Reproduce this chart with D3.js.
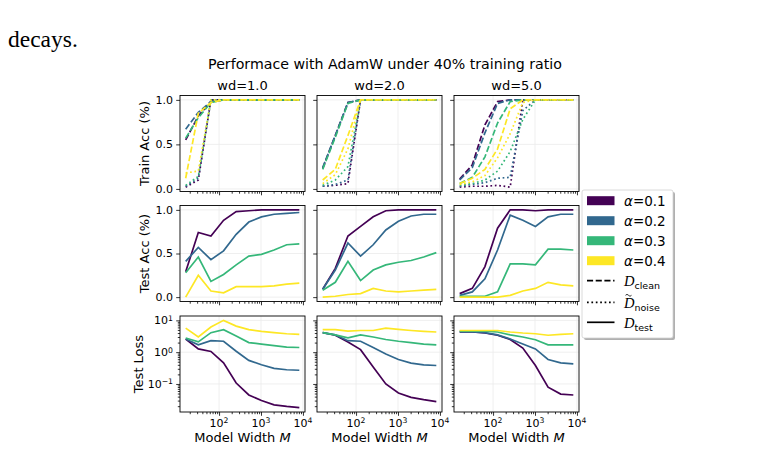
<!DOCTYPE html>
<html>
<head>
<meta charset="utf-8">
<script src="https://cdn.jsdelivr.net/npm/d3@7"></script>
<style>
  body { margin: 0; background: #fff; }
  svg text { font-family: "DejaVu Sans", sans-serif; fill: #000; }
</style>
</head>
<body>
<svg id="chart" width="784" height="449"></svg>
<script>
var widthsM = [16, 32, 64, 128, 256, 512, 1024, 2048, 4096, 8192];
var wdTitles = ["wd=1.0", "wd=2.0", "wd=5.0"];
var alphas = ["0.1", "0.2", "0.3", "0.4"];
var colors = ["#440154", "#31688e", "#35b779", "#fde725"];

// train acc on the clean part (dashed), one row per alpha
var cleanWd1 = [
  [0.55, 0.82, 0.98, 1, 1, 1, 1, 1, 1, 1],
  [0.67, 0.86, 0.98, 1, 1, 1, 1, 1, 1, 1],
  [0.57, 0.80, 0.97, 1, 1, 1, 1, 1, 1, 1],
  [0.12, 0.85, 0.97, 1, 1, 1, 1, 1, 1, 1]
];
var cleanWd2 = [
  [0.23, 0.60, 0.97, 1, 1, 1, 1, 1, 1, 1],
  [0.24, 0.60, 0.97, 1, 1, 1, 1, 1, 1, 1],
  [0.22, 0.58, 0.96, 1, 1, 1, 1, 1, 1, 1],
  [0.10, 0.22, 0.60, 1, 1, 1, 1, 1, 1, 1]
];
var cleanWd5 = [
  [0.11, 0.27, 0.72, 0.98, 1, 1, 1, 1, 1, 1],
  [0.10, 0.24, 0.63, 0.96, 1, 1, 1, 1, 1, 1],
  [0.06, 0.13, 0.36, 0.74, 0.98, 1, 1, 1, 1, 1],
  [0.06, 0.12, 0.22, 0.45, 0.90, 1, 1, 1, 1, 1]
];

// train acc on the noisy part (dotted)
var noiseWd1 = [
  [0.02, 0.10, 1, 1, 1, 1, 1, 1, 1, 1],
  [0.03, 0.12, 1, 1, 1, 1, 1, 1, 1, 1],
  [0.04, 0.14, 1, 1, 1, 1, 1, 1, 1, 1],
  [0.18, 0.20, 1, 1, 1, 1, 1, 1, 1, 1]
];
var noiseWd2 = [
  [0.03, 0.04, 0.06, 1, 1, 1, 1, 1, 1, 1],
  [0.03, 0.05, 0.10, 1, 1, 1, 1, 1, 1, 1],
  [0.04, 0.10, 0.25, 1, 1, 1, 1, 1, 1, 1],
  [0.06, 0.16, 0.45, 1, 1, 1, 1, 1, 1, 1]
];
var noiseWd5 = [
  [0.02, 0.03, 0.03, 0.04, 0.02, 1, 1, 1, 1, 1],
  [0.03, 0.05, 0.07, 0.12, 0.13, 0.88, 1, 1, 1, 1],
  [0.04, 0.06, 0.10, 0.20, 0.42, 0.78, 1, 1, 1, 1],
  [0.05, 0.08, 0.15, 0.35, 0.62, 0.97, 1, 1, 1, 1]
];

// test accuracy
var testAccWd1 = [
  [0.29, 0.74, 0.70, 0.88, 0.98, 0.99, 1.0, 1.0, 1.0, 1.0],
  [0.41, 0.57, 0.43, 0.53, 0.72, 0.86, 0.92, 0.95, 0.96, 0.97],
  [0.28, 0.46, 0.18, 0.26, 0.37, 0.47, 0.49, 0.54, 0.60, 0.61],
  [0.00, 0.25, 0.07, 0.05, 0.12, 0.12, 0.12, 0.13, 0.15, 0.16]
];
var testAccWd2 = [
  [0.09, 0.33, 0.70, 0.81, 0.92, 0.99, 1.0, 1.0, 1.0, 1.0],
  [0.09, 0.31, 0.62, 0.47, 0.60, 0.77, 0.87, 0.93, 0.95, 0.95],
  [0.08, 0.17, 0.41, 0.19, 0.31, 0.37, 0.40, 0.42, 0.46, 0.51],
  [0.00, 0.01, 0.03, 0.04, 0.10, 0.07, 0.06, 0.07, 0.08, 0.09]
];
var testAccWd5 = [
  [0.04, 0.10, 0.35, 0.79, 1.0, 1.0, 0.99, 1.0, 1.0, 1.0],
  [0.02, 0.06, 0.21, 0.54, 0.94, 0.88, 0.81, 0.92, 0.95, 0.95],
  [0.01, 0.01, 0.01, 0.06, 0.38, 0.38, 0.37, 0.55, 0.55, 0.54],
  [0.00, 0.00, 0.00, 0.00, 0.02, 0.07, 0.10, 0.17, 0.14, 0.13]
];

// test loss
var testLossWd1 = [
  [2.6, 1.27, 1.05, 0.46, 0.107, 0.045, 0.030, 0.022, 0.0196, 0.018],
  [2.6, 1.7, 2.3, 2.2, 1.07, 0.55, 0.40, 0.31, 0.28, 0.27],
  [2.8, 2.1, 4.1, 5.1, 3.2, 2.0, 1.8, 1.6, 1.45, 1.4],
  [5.7, 3.0, 6.2, 10.0, 6.6, 5.1, 4.5, 4.1, 3.8, 3.6]
];
var testLossWd2 = [
  [4.1, 3.4, 2.1, 1.2, 0.34, 0.10, 0.052, 0.038, 0.032, 0.028],
  [4.1, 3.5, 2.3, 2.2, 1.4, 0.87, 0.59, 0.45, 0.40, 0.38],
  [4.1, 3.5, 2.8, 3.5, 3.0, 2.5, 2.2, 2.0, 1.8, 1.7],
  [5.1, 5.1, 4.6, 4.8, 4.8, 5.7, 5.2, 4.8, 4.5, 4.3]
];
var testLossWd5 = [
  [4.3, 4.3, 4.0, 3.4, 2.5, 1.35, 0.38, 0.079, 0.048, 0.045],
  [4.3, 4.3, 4.1, 3.5, 2.6, 1.8, 1.26, 0.59, 0.46, 0.43],
  [4.6, 4.6, 4.6, 4.3, 3.5, 3.0, 2.45, 1.7, 1.7, 1.7],
  [4.8, 4.8, 4.8, 4.8, 4.3, 4.0, 3.8, 3.4, 3.6, 3.8]
];

var cleanAll = [cleanWd1, cleanWd2, cleanWd5];
var noiseAll = [noiseWd1, noiseWd2, noiseWd5];
var testAccAll = [testAccWd1, testAccWd2, testAccWd5];
var testLossAll = [testLossWd1, testLossWd2, testLossWd5];

var svg = d3.select("#chart");

// panel geometry
var colX = [180, 317, 454], panelW = 125;
var rowY = [95.5, 205.5, 316], panelH = 96;

var lw = 1.7;
var dashClean = "6.1,2.6", dashNoise = "1.7,2.7";

// text above the figure (page caption remnant)
svg.append("text")
    .attr("x", 8).attr("y", 47)
    .style("font-family", "'Liberation Serif', serif")
    .style("font-size", "23.5px")
    .text("decays.");

svg.append("text")
    .attr("x", 385).attr("y", 69)
    .attr("text-anchor", "middle")
    .style("font-size", "14.2px")
    .text("Performace with AdamW under 40% training ratio");

// matplotlib-like 5% margins
function padLog(lo, hi) {
  var a = Math.log10(lo), b = Math.log10(hi), p = (b - a) * 0.05;
  return [Math.pow(10, a - p), Math.pow(10, b + p)];
}
function padLin(lo, hi) {
  var p = (hi - lo) * 0.05;
  return [lo - p, hi + p];
}
var xDomain = padLog(d3.min(widthsM), d3.max(widthsM));

function flat(arr) {
  var out = [];
  arr.forEach(function(p) { p.forEach(function(s) { out = out.concat(s); }); });
  return out;
}
var row1Vals = flat(cleanAll).concat(flat(noiseAll));
var row2Vals = flat(testAccAll);
var row3Vals = flat(testLossAll);

var yDomains = [
  padLin(d3.min(row1Vals), d3.max(row1Vals)),
  padLin(d3.min(row2Vals), d3.max(row2Vals)),
  padLog(d3.min(row3Vals), d3.max(row3Vals))
];

var xMinor = [];
[10, 100, 1000].forEach(function(b) {
  for (var m = 2; m <= 9; m++) {
    var v = m * b;
    if (v >= xDomain[0] && v <= xDomain[1]) xMinor.push(v);
  }
});
var yMinor = [];
[0.01, 0.1, 1, 10].forEach(function(b) {
  for (var m = 2; m <= 9; m++) {
    var v = m * b;
    if (v >= yDomains[2][0] && v <= yDomains[2][1]) yMinor.push(v);
  }
});

function supLabel(sel, base, exp) {
  sel.append("tspan").text(base);
  sel.append("tspan").attr("dy", "-0.45em").style("font-size", "7.7px").text(exp);
}

var rowLabels = ["Train Acc (%)", "Test Acc (%)", "Test Loss"];
var rowLabelX = [149, 149, 143];

for (var r = 0; r < 3; r++) {
  for (var c = 0; c < 3; c++) {
    var x = d3.scaleLog().domain(xDomain).range([colX[c], colX[c] + panelW]);
    var y = (r == 2 ? d3.scaleLog() : d3.scaleLinear())
        .domain(yDomains[r]).range([rowY[r] + panelH, rowY[r]]);
    var yMajor = r == 2 ? [0.1, 1, 10] : [0, 0.5, 1.0];

    var g = svg.append("g").attr("class", "panel");

    // grid
    g.selectAll(".gx").data([100, 1000, 10000]).enter().append("line")
        .attr("x1", d => x(d)).attr("x2", d => x(d))
        .attr("y1", rowY[r]).attr("y2", rowY[r] + panelH)
        .attr("stroke", "#ebebeb").attr("stroke-width", 0.8);
    g.selectAll(".gy").data(yMajor).enter().append("line")
        .attr("x1", colX[c]).attr("x2", colX[c] + panelW)
        .attr("y1", d => y(d)).attr("y2", d => y(d))
        .attr("stroke", "#ebebeb").attr("stroke-width", 0.8);

    // lines
    var line = d3.line().x((d, i) => x(widthsM[i])).y(d => y(d));
    for (var a = 0; a < 4; a++) {
      if (r == 0) {
        g.append("path").datum(cleanAll[c][a]).attr("d", line)
            .attr("fill", "none").attr("stroke", colors[a]).attr("stroke-width", lw)
            .attr("stroke-dasharray", dashClean);
        g.append("path").datum(noiseAll[c][a]).attr("d", line)
            .attr("fill", "none").attr("stroke", colors[a]).attr("stroke-width", lw)
            .attr("stroke-dasharray", dashNoise);
      } else {
        var src = r == 1 ? testAccAll[c][a] : testLossAll[c][a];
        g.append("path").datum(src).attr("d", line)
            .attr("fill", "none").attr("stroke", colors[a]).attr("stroke-width", lw);
      }
    }

    // axes ticks
    var bottom = rowY[r] + panelH;
    g.append("g").attr("transform", "translate(0," + bottom + ")")
        .call(d3.axisBottom(x).tickValues([100, 1000, 10000]).tickSize(3.8).tickFormat(""));
    g.append("g").attr("transform", "translate(0," + bottom + ")")
        .call(d3.axisBottom(x).tickValues(xMinor).tickSize(2.2).tickFormat(""));
    g.append("g").attr("transform", "translate(" + colX[c] + ",0)")
        .call(d3.axisLeft(y).tickValues(yMajor).tickSize(3.8).tickFormat(""));
    if (r == 2) {
      g.append("g").attr("transform", "translate(" + colX[c] + ",0)")
          .call(d3.axisLeft(y).tickValues(yMinor).tickSize(2.2).tickFormat(""));
    }
    g.selectAll(".domain").remove();
    g.selectAll(".tick line").attr("stroke", "#000").attr("stroke-width", 0.8);

    // frame
    g.append("rect")
        .attr("x", colX[c]).attr("y", rowY[r])
        .attr("width", panelW).attr("height", panelH)
        .attr("fill", "none").attr("stroke", "#000").attr("stroke-width", 0.9);

    // tick labels
    if (c == 0) {
      yMajor.forEach(function(v) {
        var t = g.append("text")
            .attr("x", colX[c] - 7).attr("y", y(v)).attr("dy", "0.36em")
            .attr("text-anchor", "end").style("font-size", "11px");
        if (r == 2) {
          supLabel(t, "10", v == 0.1 ? "\u22121" : (v == 1 ? "0" : "1"));
        } else {
          t.text(d3.format(".1f")(v));
        }
      });
      g.append("text")
          .attr("transform", "translate(" + rowLabelX[r] + "," + (rowY[r] + panelH / 2) + ")rotate(-90)")
          .attr("text-anchor", "middle")
          .style("font-size", "13px")
          .text(rowLabels[r]);
    }
    if (r == 2) {
      [100, 1000, 10000].forEach(function(v) {
        var t = g.append("text")
            .attr("x", x(v)).attr("y", bottom + 14.5)
            .attr("text-anchor", "middle").style("font-size", "11px");
        supLabel(t, "10", String(Math.round(Math.log10(v))));
      });
      var xl = g.append("text")
          .attr("x", colX[c] + panelW / 2).attr("y", 442)
          .attr("text-anchor", "middle").style("font-size", "13px");
      xl.append("tspan").text("Model Width ");
      xl.append("tspan").style("font-style", "italic").text("M");
    }
    if (r == 0) {
      g.append("text")
          .attr("x", colX[c] + panelW / 2).attr("y", 90)
          .attr("text-anchor", "middle").style("font-size", "13px")
          .text(wdTitles[c]);
    }
  }
}

// legend
var lg = svg.append("g").attr("class", "legend");
lg.append("rect").attr("x", 584).attr("y", 192).attr("width", 91).attr("height", 148)
    .attr("rx", 2).attr("fill", "#b0b0b0");
lg.append("rect").attr("x", 582).attr("y", 190).attr("width", 91).attr("height", 148)
    .attr("rx", 2).attr("fill", "#fff").attr("stroke", "#d0d0d0").attr("stroke-width", 0.8);

alphas.forEach(function(al, i) {
  var cy = 200.7 + i * 20;
  lg.append("rect").attr("x", 587).attr("y", cy - 4.5).attr("width", 27.5).attr("height", 9)
      .attr("fill", colors[i]);
  var t = lg.append("text").attr("x", 624).attr("y", cy).attr("dy", "0.36em")
      .style("font-size", "13.5px");
  t.append("tspan").style("font-style", "italic").text("\u03b1");
  t.append("tspan").text("=" + al);
});

var styleEntries = [
  { dash: dashClean, sub: "clean", tilde: false, cy: 280.7 },
  { dash: dashNoise, sub: "noise", tilde: true, cy: 302.3 },
  { dash: null, sub: "test", tilde: false, cy: 322.3 }
];
styleEntries.forEach(function(e) {
  var l = lg.append("line").attr("x1", 587).attr("x2", 614.5)
      .attr("y1", e.cy).attr("y2", e.cy)
      .attr("stroke", "#000").attr("stroke-width", lw);
  if (e.dash) l.attr("stroke-dasharray", e.dash);
  var t = lg.append("text").attr("x", 624).attr("y", e.cy).attr("dy", "0.36em");
  t.append("tspan")
      .style("font-family", "'Liberation Serif', serif")
      .style("font-style", "italic").style("font-size", "14.5px").text("D");
  t.append("tspan").attr("dy", "3").style("font-size", "9.5px").text(e.sub);
  if (e.tilde) {
    // small tilde above the D
    lg.append("path")
        .attr("d", "M625.5," + (e.cy - 7) + " q1.5,-2 3,0 t3,0")
        .attr("fill", "none").attr("stroke", "#000").attr("stroke-width", 0.8);
  }
});
</script>
</body>
</html>
